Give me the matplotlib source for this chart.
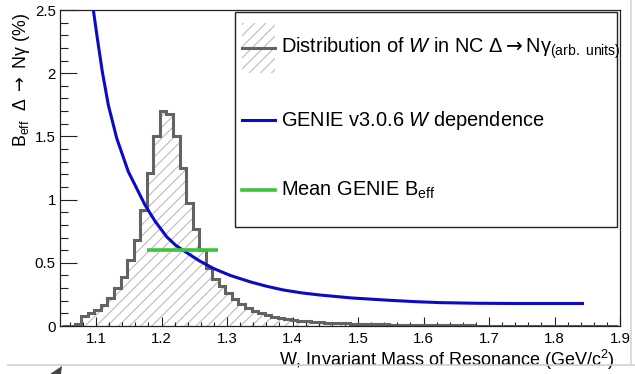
import numpy as np
import matplotlib
matplotlib.use("Agg")
import matplotlib.pyplot as plt
from matplotlib.patches import Rectangle, Polygon
from matplotlib.lines import Line2D
from matplotlib.ticker import MultipleLocator, FuncFormatter

plt.rcParams['font.family'] = ['Liberation Sans', 'DejaVu Sans']
plt.rcParams['mathtext.fontset'] = 'custom'
plt.rcParams['mathtext.rm'] = 'Liberation Sans'
plt.rcParams['mathtext.it'] = 'Liberation Sans:italic'
plt.rcParams['mathtext.bf'] = 'Liberation Sans:bold'
plt.rcParams['mathtext.sf'] = 'DejaVu Sans'
plt.rcParams['hatch.linewidth'] = 0.8

# W distribution (arb. units), 0.01 GeV bins
w_first_edge = 1.0475
w_bin_width = 0.01
w_counts = [
    0.0, 0.0,
    0.015, 0.08, 0.105, 0.13, 0.17, 0.225, 0.30, 0.385, 0.52, 0.68,
    0.92, 1.21, 1.50, 1.70, 1.68, 1.50, 1.25, 0.97, 0.765, 0.60,
    0.46, 0.37, 0.315, 0.26, 0.21, 0.172, 0.145, 0.12, 0.10, 0.087,
    0.072, 0.06, 0.052, 0.045, 0.040, 0.036, 0.032, 0.029, 0.026, 0.024,
    0.022, 0.020, 0.018, 0.016, 0.015, 0.014, 0.013, 0.012, 0.011, 0.010,
    0.009, 0.009, 0.008, 0.007, 0.007, 0.006, 0.006, 0.005, 0.005, 0.004,
    0.004, 0.003, 0.003, 0.003, 0.002, 0.002, 0.002, 0.001, 0.001, 0.001,
    0.001, 0.0, 0.0, 0.0, 0.0, 0.0, 0.0, 0.0, 0.0, 0.0, 0.0, 0.0, 0.0,
]

# GENIE v3.0.6 effective branching ratio vs W (%)
genie_w = [1.0959, 1.102, 1.1096, 1.1188, 1.1316, 1.1493, 1.1748, 1.19,
           1.208, 1.222, 1.238, 1.258, 1.279, 1.305, 1.335, 1.36, 1.386,
           1.414, 1.442, 1.49, 1.549, 1.59, 1.625, 1.68, 1.74, 1.845]
genie_beff = [2.50, 2.276, 2.012, 1.748, 1.485, 1.221, 0.957, 0.83,
              0.705, 0.637, 0.582, 0.515, 0.456, 0.40, 0.35, 0.315, 0.285,
              0.262, 0.245, 0.222, 0.203, 0.192, 0.185, 0.180, 0.178, 0.178]

# Mean GENIE B_eff and the W span it is drawn over
mean_beff = 0.60
mean_w_range = [1.178, 1.286]

x_ticks = [1.1, 1.2, 1.3, 1.4, 1.5, 1.6, 1.7, 1.8, 1.9]
y_ticks = [0, 0.5, 1, 1.5, 2, 2.5]

HIST_EDGE = '#636363'
HATCH = '#bcbcbc'
BLUE = '#0b0bc6'
GREEN = '#3cc43c'

fig = plt.figure(figsize=(6.35, 3.74), dpi=100)
ax = fig.add_axes([0.09449, 0.12834, 0.88189, 0.84492])

edges = w_first_edge + w_bin_width * np.arange(len(w_counts) + 1)
ax.stairs(w_counts, edges, fill=True, hatch='///', facecolor='white',
          edgecolor=HATCH, linewidth=0, zorder=1)
ax.stairs(w_counts, edges, color=HIST_EDGE, linewidth=2.2, zorder=2)
ax.plot(genie_w, genie_beff, color=BLUE, linewidth=2.2, zorder=3,
        solid_capstyle='butt')
ax.plot(mean_w_range, [mean_beff, mean_beff], color=GREEN, linewidth=2.6,
        zorder=4, solid_capstyle='butt')

ax.set_xlim(1.045, 1.9)
ax.set_ylim(0, 2.5)
ax.set_xticks(x_ticks)
ax.set_yticks(y_ticks)
ax.xaxis.set_minor_locator(MultipleLocator(0.02))
ax.yaxis.set_minor_locator(MultipleLocator(0.1))
ax.xaxis.set_major_formatter(FuncFormatter(lambda v, p: f"{v:g}"))
ax.yaxis.set_major_formatter(FuncFormatter(lambda v, p: f"{v:g}"))
ax.tick_params(axis='both', which='both', direction='in', width=0.8,
               labelsize=10.8, color='#222222')
ax.tick_params(axis='x', which='major', length=6.5, pad=4.5)
ax.tick_params(axis='x', which='minor', length=3.2)
ax.tick_params(axis='y', which='major', length=12, pad=3)
ax.tick_params(axis='y', which='minor', length=6)
for sp in ax.spines.values():
    sp.set_linewidth(0.9)
    sp.set_color('#222222')

ax.set_xlabel('W, Invariant Mass of Resonance (GeV/c$^2$)', fontsize=13,
              loc='right')
ax.xaxis.set_label_coords(0.991, -0.068)
ax.set_ylabel('B$_{\\rm eff}$  Δ $\\mathsf{\\rightarrow}$ Nγ (%)',
              fontsize=12.8, loc='top')
ax.yaxis.set_label_coords(-0.05, 0.99)

# legend box
T = ax.transAxes
ax.add_patch(Rectangle((0.3125, 0.3133), 0.9946 - 0.3125, 0.9927 - 0.3133,
                       transform=T, facecolor='white', edgecolor='#222222',
                       linewidth=1.0, zorder=10, clip_on=False))
ax.add_patch(Rectangle((0.3245, 0.8006), 0.0594, 0.9589 - 0.8006,
                       transform=T, facecolor='white', edgecolor=HATCH,
                       linewidth=0, hatch='///', zorder=11))
lx = [0.3245, 0.3839]
ax.add_line(Line2D(lx, [0.8797, 0.8797], transform=T, color=HIST_EDGE,
                   linewidth=2.2, zorder=12))
ax.add_line(Line2D(lx, [0.6519, 0.6519], transform=T, color=BLUE,
                   linewidth=2.2, zorder=12))
ax.add_line(Line2D(lx, [0.4304, 0.4304], transform=T, color=GREEN,
                   linewidth=2.6, zorder=12))
tx = 0.3946
ax.text(tx, 0.8797,
        'Distribution of $\\mathit{W}$ in NC Δ$\\mathsf{\\rightarrow}$Nγ'
        '$_{\\rm (arb.\\ units)}$',
        transform=T, fontsize=14.4, va='center', ha='left', zorder=13)
ax.text(tx, 0.6519, 'GENIE v3.0.6 $\\mathit{W}$ dependence',
        transform=T, fontsize=14.4, va='center', ha='left', zorder=13)
ax.text(tx, 0.4304, 'Mean GENIE B$_{\\rm eff}$',
        transform=T, fontsize=14.4, va='center', ha='left', zorder=13)

# page edge lines below and right of the plot
W, H = 635.0, 374.0
fig.add_artist(Line2D([8 / W, 1.0], [1 - 365 / H, 1 - 365 / H],
                      color='#cfcfcf', linewidth=1.2))
fig.add_artist(Line2D([631 / W, 631 / W], [1.0, 1 - 365 / H],
                      color='#d6d6d6', linewidth=1.2))
fig.add_artist(Polygon([[50 / W, 0.0], [62 / W, 1 - 366 / H],
                        [61 / W, 0.0]], closed=True,
                       facecolor='#444444', edgecolor='none'))

fig.savefig('out.png', dpi=100)
